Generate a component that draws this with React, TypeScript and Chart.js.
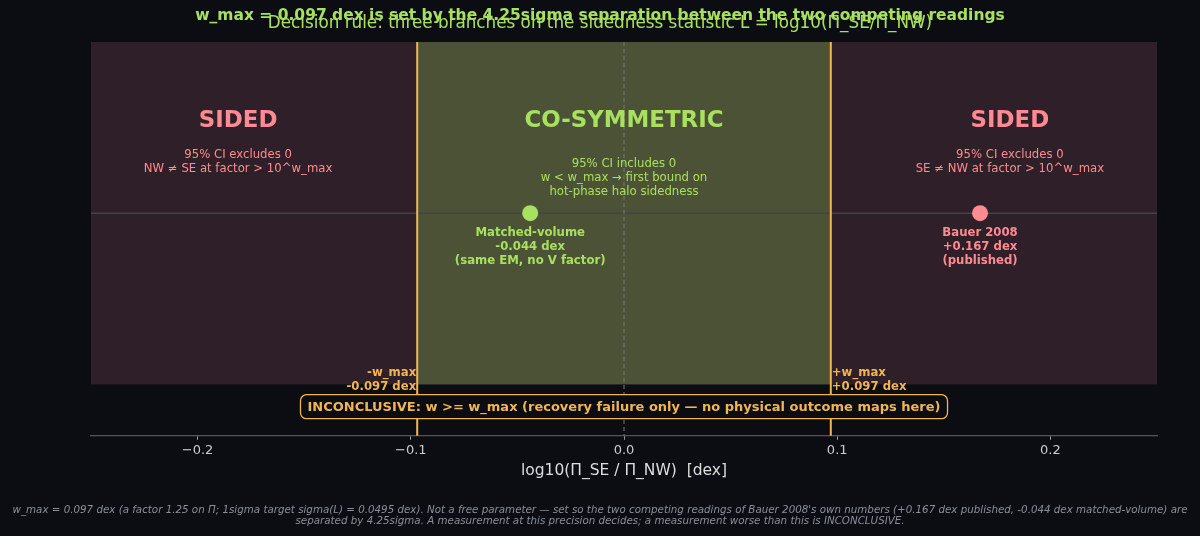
import React, { useEffect, useRef } from 'react';
import { Chart, registerables, Plugin } from 'chart.js';

Chart.register(...registerables);

// decision boundary and plot limits (dex)
const W_MAX = 0.097;
const X_RANGE = [-0.25, 0.25];
const Y_RANGE = [-1.3, 1.0];
const X_TICKS = [-0.2, -0.1, 0.0, 0.1, 0.2];

// the two competing readings
const readingLabels = ['Matched-volume', 'Bauer 2008'];
const readingValues = [-0.044, 0.167];
const readingNotes = [
    ['Matched-volume', '-0.044 dex', '(same EM, no V factor)'],
    ['Bauer 2008', '+0.167 dex', '(published)'],
];

const BG = '#0b0d13';
const SIDED_FILL = '#2f1f28';
const COSYM_FILL = '#4b5236';
const ORANGE = '#f2b552';
const PINK = '#ff8a92';
const GREEN = '#a8e05f';
const FONT = '"DejaVu Sans", sans-serif';

const fmtTick = (v: number) => {
    const s = Math.abs(v).toFixed(1);
    return v < -1e-9 ? '\u2212' + s : s;
};

const drawLines = (ctx: CanvasRenderingContext2D, lines: string[], x: number, yc: number, lh: number) => {
    const y0 = yc - ((lines.length - 1) * lh) / 2;
    lines.forEach((t, i) => ctx.fillText(t, x, y0 + i * lh));
};

const decisionPlugin: Plugin<'scatter'> = {
    id: 'decision',
    beforeDraw(chart) {
        const ctx = chart.ctx;
        ctx.save();
        ctx.fillStyle = BG;
        ctx.fillRect(0, 0, chart.width, chart.height);
        ctx.restore();
    },
    beforeDatasetsDraw(chart) {
        const { ctx, chartArea } = chart;
        const xs = chart.scales.x;
        const ys = chart.scales.y;
        const top = ys.getPixelForValue(1);
        const bot = ys.getPixelForValue(-1);
        const xl = xs.getPixelForValue(-W_MAX);
        const xr = xs.getPixelForValue(W_MAX);
        ctx.save();
        // regions
        ctx.fillStyle = SIDED_FILL;
        ctx.fillRect(xs.getPixelForValue(X_RANGE[0]), top, xl - xs.getPixelForValue(X_RANGE[0]), bot - top);
        ctx.fillRect(xr, top, xs.getPixelForValue(X_RANGE[1]) - xr, bot - top);
        ctx.fillStyle = COSYM_FILL;
        ctx.fillRect(xl, top, xr - xl, bot - top);
        // zero line
        const y0 = ys.getPixelForValue(0);
        ctx.strokeStyle = '#444444';
        ctx.lineWidth = 1.5;
        ctx.beginPath();
        ctx.moveTo(chartArea.left, y0);
        ctx.lineTo(chartArea.right, y0);
        ctx.stroke();
        // dashed centre line
        const x0 = xs.getPixelForValue(0);
        ctx.strokeStyle = '#7a7a7a';
        ctx.lineWidth = 1;
        ctx.setLineDash([4, 3]);
        ctx.beginPath();
        ctx.moveTo(x0, chartArea.top);
        ctx.lineTo(x0, chartArea.bottom);
        ctx.stroke();
        ctx.setLineDash([]);
        // +/- w_max
        ctx.strokeStyle = ORANGE;
        ctx.lineWidth = 2;
        [xl, xr].forEach((x) => {
            ctx.beginPath();
            ctx.moveTo(x, chartArea.top);
            ctx.lineTo(x, chartArea.bottom);
            ctx.stroke();
        });
        ctx.restore();
    },
    afterDatasetsDraw(chart) {
        const { ctx } = chart;
        const xs = chart.scales.x;
        const ys = chart.scales.y;
        const px = (v: number) => xs.getPixelForValue(v);
        const py = (v: number) => ys.getPixelForValue(v);
        ctx.save();
        ctx.textAlign = 'center';
        ctx.textBaseline = 'middle';

        // region headings
        ctx.font = `bold 22.9px ${FONT}`;
        ctx.fillStyle = PINK;
        ctx.fillText('SIDED', px(-0.181), py(0.54));
        ctx.fillText('SIDED', px(0.181), py(0.54));
        ctx.fillStyle = GREEN;
        ctx.fillText('CO-SYMMETRIC', px(0), py(0.54));

        ctx.font = `11.7px ${FONT}`;
        ctx.fillStyle = PINK;
        drawLines(ctx, ['95% CI excludes 0', 'NW \u2260 SE at factor > 10^w_max'], px(-0.181), py(0.3), 13.5);
        drawLines(ctx, ['95% CI excludes 0', 'SE \u2260 NW at factor > 10^w_max'], px(0.181), py(0.3), 13.5);
        ctx.fillStyle = GREEN;
        drawLines(ctx, ['95% CI includes 0', 'w < w_max \u2192 first bound on', 'hot-phase halo sidedness'], px(0), py(0.205), 14);

        // point notes
        ctx.font = `bold 11.7px ${FONT}`;
        readingValues.forEach((v, i) => {
            ctx.fillStyle = v < W_MAX && v > -W_MAX ? GREEN : PINK;
            drawLines(ctx, readingNotes[i], px(v), py(-0.2), 14);
        });

        // w_max labels
        ctx.fillStyle = ORANGE;
        ctx.textAlign = 'right';
        drawLines(ctx, ['-w_max', '-0.097 dex'], px(-W_MAX) - 1, py(-0.975), 13.5);
        ctx.textAlign = 'left';
        drawLines(ctx, ['+w_max', '+0.097 dex'], px(W_MAX) + 1, py(-0.975), 13.5);

        // inconclusive box
        const msg = 'INCONCLUSIVE: w >= w_max (recovery failure only \u2014 no physical outcome maps here)';
        ctx.font = `bold 13px ${FONT}`;
        const tw = ctx.measureText(msg).width;
        const bx = px(0);
        const by = py(-1.13);
        const bw = tw + 14;
        const bh = 24;
        ctx.beginPath();
        ctx.roundRect(bx - bw / 2, by - bh / 2, bw, bh, 6);
        ctx.fillStyle = BG;
        ctx.fill();
        ctx.strokeStyle = ORANGE;
        ctx.lineWidth = 1.3;
        ctx.stroke();
        ctx.fillStyle = ORANGE;
        ctx.textAlign = 'center';
        ctx.fillText(msg, bx, by + 1);
        ctx.restore();
    },
    afterDraw(chart) {
        const { ctx } = chart;
        const cx = chart.width / 2;
        ctx.save();
        ctx.textAlign = 'center';
        ctx.textBaseline = 'middle';
        ctx.fillStyle = GREEN;
        ctx.font = `16.8px ${FONT}`;
        ctx.fillText('Decision rule: three branches on the sidedness statistic L = log10(\u03a0_SE/\u03a0_NW)', cx, 24);
        ctx.font = `bold 15.5px ${FONT}`;
        ctx.fillText('w_max = 0.097 dex is set by the 4.25sigma separation between the two competing readings', cx, 16);

        ctx.fillStyle = '#8a8f98';
        ctx.font = `italic 10.3px ${FONT}`;
        ctx.fillText(
            "w_max = 0.097 dex (a factor 1.25 on \u03a0; 1sigma target sigma(L) = 0.0495 dex). Not a free parameter \u2014 set so the two competing readings of Bauer 2008's own numbers (+0.167 dex published, -0.044 dex matched-volume) are",
            cx, 510);
        ctx.fillText(
            'separated by 4.25sigma. A measurement at this precision decides; a measurement worse than this is INCONCLUSIVE.',
            cx, 521);
        ctx.restore();
    },
};

const DecisionChart: React.FC = () => {
    const canvasRef = useRef<HTMLCanvasElement | null>(null);
    const chartRef = useRef<Chart<'scatter'> | null>(null);

    useEffect(() => {
        document.body.style.margin = '0';
        if (!canvasRef.current) return;
        const ctx = canvasRef.current.getContext('2d');
        if (!ctx) return;
        if (chartRef.current) chartRef.current.destroy();

        chartRef.current = new Chart(ctx, {
            type: 'scatter',
            data: {
                datasets: readingLabels.map((label, i) => ({
                    label,
                    data: [{ x: readingValues[i], y: 0 }],
                    backgroundColor: readingValues[i] > W_MAX ? PINK : GREEN,
                    borderWidth: 0,
                    pointRadius: 8,
                })),
            },
            options: {
                responsive: false,
                animation: false,
                devicePixelRatio: 1,
                layout: { padding: { left: 91, right: 43, top: 42, bottom: 56 } },
                plugins: { legend: { display: false }, tooltip: { enabled: false } },
                scales: {
                    x: {
                        type: 'linear',
                        min: X_RANGE[0],
                        max: X_RANGE[1],
                        afterBuildTicks: (axis) => {
                            axis.ticks = X_TICKS.map((value) => ({ value }));
                        },
                        grid: { drawOnChartArea: false, drawTicks: true, tickLength: 4, color: '#999999' },
                        border: { display: true, color: '#555555', width: 1.2 },
                        ticks: {
                            color: '#cccccc',
                            padding: 3,
                            font: { family: 'DejaVu Sans', size: 13 },
                            maxRotation: 0,
                            callback: (v) => fmtTick(Number(v)),
                        },
                        title: {
                            display: true,
                            text: 'log10(\u03a0_SE / \u03a0_NW)  [dex]',
                            color: '#dddddd',
                            font: { family: 'DejaVu Sans', size: 15.5 },
                            padding: { top: 0, bottom: 0 },
                        },
                    },
                    y: { type: 'linear', min: Y_RANGE[0], max: Y_RANGE[1], display: false },
                },
            },
            plugins: [decisionPlugin],
        });

        return () => {
            if (chartRef.current) {
                chartRef.current.destroy();
                chartRef.current = null;
            }
        };
    }, []);

    return (
        <div style={{ position: 'fixed', left: 0, top: 0, width: 1200, height: 536, background: BG }}>
            <canvas ref={canvasRef} width={1200} height={536}></canvas>
        </div>
    );
};

export default function App() {
    return <DecisionChart />;
}
